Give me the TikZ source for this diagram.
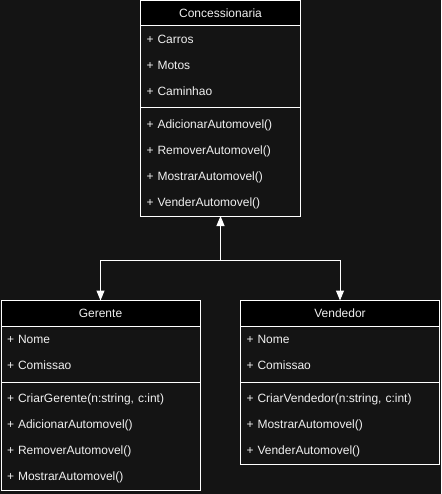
\documentclass[tikz,border=0pt]{standalone}
\usepackage{fontspec}
\setmainfont{Liberation Sans}
\usepackage{tikz}
\usetikzlibrary{positioning,arrows.meta}

\definecolor{bgdark}{HTML}{141414}
\definecolor{txtlight}{HTML}{F0F0F0}

\begin{document}
\begin{tikzpicture}
	[x=1pt,y=-1pt,line width=1pt,draw=white,
	 font=\fontsize{12pt}{14pt}\selectfont,text=txtlight,
	 tri/.style={-{Triangle[width=8pt,length=10pt,fill=white]},draw=white}]
	\tikzstyle{head}=[draw=white,fill=black,minimum height=25.5pt,inner sep=0pt,outer sep=0pt]
	\tikzstyle{row}=[text width=148pt,inner xsep=6pt,inner ysep=0pt,outer sep=0pt,minimum height=26pt,align=left]

	\fill[bgdark] (0,0) rectangle (441,494);
	\useasboundingbox (0,0) rectangle (441,494);

	% Concessionaria
	\node[head,minimum width=160pt] (Cons) at (220.5,13.25) {Concessionaria};
	\node[row] (Cons1) [below=0pt of Cons]  {+ Carros};
	\node[row] (Cons2) [below=0pt of Cons1] {+ Motos};
	\node[row] (Cons3) [below=0pt of Cons2] {+ Caminhao};
	\node[row] (Cons4) [below=8pt of Cons3] {+ AdicionarAutomovel()};
	\node[row] (Cons5) [below=0pt of Cons4] {+ RemoverAutomovel()};
	\node[row] (Cons6) [below=0pt of Cons5] {+ MostrarAutomovel()};
	\node[row] (Cons7) [below=0pt of Cons6] {+ VenderAutomovel()};
	\draw (Cons.south west) rectangle (Cons7.south east);
	\draw ([yshift=-4pt]Cons3.south west) -- ([yshift=-4pt]Cons3.south east);

	% Gerente
	\tikzstyle{row}+=[text width=187pt]
	\node[head,minimum width=199pt] (Ger) at (100.5,313.25) {Gerente};
	\node[row] (Ger1) [below=0pt of Ger]  {+ Nome};
	\node[row] (Ger2) [below=0pt of Ger1] {+ Comissao};
	\node[row] (Ger3) [below=8pt of Ger2] {+ CriarGerente(n:string, c:int)};
	\node[row] (Ger4) [below=0pt of Ger3] {+ AdicionarAutomovel()};
	\node[row] (Ger5) [below=0pt of Ger4] {+ RemoverAutomovel()};
	\node[row] (Ger6) [below=0pt of Ger5] {+ MostrarAutomovel()};
	\draw (Ger.south west) rectangle (Ger6.south east);
	\draw ([yshift=-4pt]Ger2.south west) -- ([yshift=-4pt]Ger2.south east);

	% Vendedor
	\node[head,minimum width=199pt] (Ven) at (340,313.25) {Vendedor};
	\node[row] (Ven1) [below=0pt of Ven]  {+ Nome};
	\node[row] (Ven2) [below=0pt of Ven1] {+ Comissao};
	\node[row] (Ven3) [below=8pt of Ven2] {+ CriarVendedor(n:string, c:int)};
	\node[row] (Ven4) [below=0pt of Ven3] {+ MostrarAutomovel()};
	\node[row] (Ven5) [below=0pt of Ven4] {+ VenderAutomovel()};
	\draw (Ven.south west) rectangle (Ven5.south east);
	\draw ([yshift=-4pt]Ven2.south west) -- ([yshift=-4pt]Ven2.south east);

	% heranca
	\coordinate (J) at (220.5,260);
	\draw[tri] (J) -- (Cons7.south);
	\draw[tri] (J) -| (Ger);
	\draw[tri] (J) -| (Ven);
\end{tikzpicture}
\end{document}
